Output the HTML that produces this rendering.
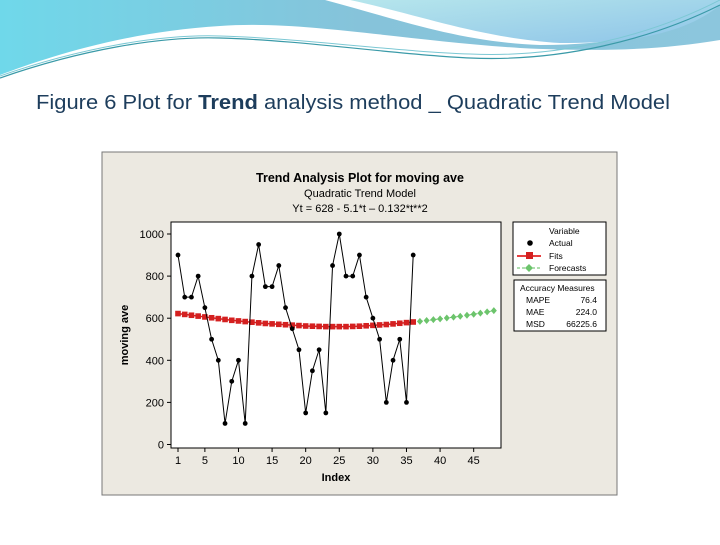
<!DOCTYPE html>
<html><head><meta charset="utf-8"><style>
body{margin:0;width:720px;height:540px;background:#fff;overflow:hidden;font-family:"Liberation Sans",sans-serif}
</style></head><body>
<svg width="720" height="540" xmlns="http://www.w3.org/2000/svg">
<defs>
<linearGradient id="g1" x1="0" y1="0" x2="1" y2="0"><stop offset="0" stop-color="#6fd8ea"/><stop offset="0.5" stop-color="#86c3da"/><stop offset="1" stop-color="#8cc6dd"/></linearGradient>
<linearGradient id="g2" x1="0" y1="0" x2="1" y2="1"><stop offset="0" stop-color="#b6e6ec"/><stop offset="1" stop-color="#8ec4e8"/></linearGradient>
</defs>
<g>
<path d="M0,0 H720 V40 C660,50 600,52 520,48 C400,40 300,20 220,26 C120,32 40,60 0,75 Z" fill="url(#g1)"/>
<path d="M325,0 H720 V5 C680,30 620,45 540,45 C460,42 400,20 325,0 Z" fill="#fff"/>
<path d="M350,0 H720 V5 C690,30 640,44 560,43 C480,38 420,15 350,0 Z" fill="url(#g2)"/>
<path d="M0,78 C80,50 160,36 220,38 C300,40 400,55 470,58 C560,62 650,40 720,5" fill="none" stroke="#3a9aa8" stroke-width="1.2"/>
<path d="M0,76 C80,48 160,34 220,36 C300,38 400,52 470,54 C560,58 650,36 720,0" fill="none" stroke="#7cc8d4" stroke-width="1"/>
</g>
<text x="36" y="109" font-size="20.5" textLength="634" lengthAdjust="spacingAndGlyphs" fill="#1d3d5c">Figure 6 Plot for <tspan font-weight="bold">Trend</tspan> analysis method _ Quadratic Trend Model</text>
<rect x="102" y="152" width="515" height="343" fill="#ece9e1" stroke="#777"/>
<text x="360" y="182" font-size="12.5" font-weight="bold" text-anchor="middle" fill="#000">Trend Analysis Plot for moving ave</text>
<text x="360" y="197" font-size="11" text-anchor="middle" fill="#000">Quadratic Trend Model</text>
<text x="360" y="212" font-size="11" text-anchor="middle" fill="#000">Yt = 628 - 5.1*t – 0.132*t**2</text>
<rect x="171" y="222" width="330" height="226" fill="#fff" stroke="#000"/>
<text transform="translate(128,335) rotate(-90)" font-size="11" font-weight="bold" text-anchor="middle">moving ave</text>
<text x="336" y="481" font-size="11" font-weight="bold" text-anchor="middle">Index</text>
<g id="axes"></g>
<g id="series"></g>
<g>
<rect x="513" y="222" width="93" height="53" fill="#fff" stroke="#000"/>
<text x="549" y="234" font-size="8.5">Variable</text>
<circle cx="530" cy="243" r="2.8" fill="#000"/>
<text x="549" y="246" font-size="8.5">Actual</text>
<line x1="517" y1="256" x2="541" y2="256" stroke="#d00" stroke-width="1.5"/>
<rect x="526" y="252" width="7" height="7" fill="#d42020"/>
<text x="549" y="259" font-size="8.5">Fits</text>
<line x1="517" y1="268" x2="541" y2="268" stroke="#5cbc5c" stroke-width="1" stroke-dasharray="3,2"/>
<path d="M529,264 L533,268 L529,272 L525,268 Z" fill="#6cc46c"/>
<text x="549" y="271" font-size="8.5">Forecasts</text>
</g>
<g>
<rect x="514" y="280" width="92" height="51" fill="#fff" stroke="#000"/>
<text x="520" y="291" font-size="8.5">Accuracy Measures</text>
<text x="526" y="303" font-size="8.5">MAPE</text><text x="597" y="303" font-size="8.5" text-anchor="end">76.4</text>
<text x="526" y="315" font-size="8.5">MAE</text><text x="597" y="315" font-size="8.5" text-anchor="end">224.0</text>
<text x="526" y="327" font-size="8.5">MSD</text><text x="597" y="327" font-size="8.5" text-anchor="end">66225.6</text>
</g>
</svg>
<script>
const actual=[900,700,700,800,650,500,400,100,300,400,100,800,950,750,750,850,650,550,450,150,350,450,150,850,1000,800,800,900,700,600,500,200,400,500,200,900];
const fits=[622,618,614,610,606,602,598,594,590,587,584,581,578,575,573,571,569,567,565,563,562,561,560,560,560,560,561,562,564,566,568,570,573,576,579,582];
const forecasts=[585,589,593,597,601,605,609,614,619,624,630,636];
const xTicks=[1,5,10,15,20,25,30,35,40,45];
const yTicks=[0,200,400,600,800,1000];
const NS='http://www.w3.org/2000/svg';
const xs=t=>178+(t-1)*6.72;
const ys=v=>444.5-v*0.2105;
function mk(tag,attrs,parent){const e=document.createElementNS(NS,tag);for(const k in attrs)e.setAttribute(k,attrs[k]);parent.appendChild(e);return e;}
const ax=document.getElementById('axes'),se=document.getElementById('series');
xTicks.forEach(t=>{
 const l=mk('line',{x1:xs(t),x2:xs(t),y1:448,y2:452,stroke:'#000'},ax);
 
 
 const tx=mk('text',{x:xs(t),y:464,'font-size':11,'text-anchor':'middle'},ax);tx.textContent=t;
 
 
});
yTicks.forEach(v=>{
 const l=mk('line',{x1:167,x2:171,y1:ys(v),y2:ys(v),stroke:'#000'},ax);
 
 
 const tx=mk('text',{x:164,y:ys(v)+4,'font-size':11,'text-anchor':'end'},ax);tx.textContent=v;
 
 
});
const fl=mk('polyline',{points:fits.map((v,i)=>xs(i+1)+','+ys(v)).join(' '),fill:'none',stroke:'#d42020','stroke-width':1.5},se);


fits.forEach((v,i)=>{const r=mk('rect',{x:xs(i+1)-2.8,y:ys(v)-2.8,width:5.6,height:5.6,fill:'#d42020'},se);
 
 });
const gl=mk('polyline',{points:forecasts.map((v,i)=>xs(i+37)+','+ys(v)).join(' '),fill:'none',stroke:'#6cc46c','stroke-width':1,'stroke-dasharray':'3,2'},se);


forecasts.forEach((v,i)=>{const x=xs(i+37),y=ys(v);const d=mk('path',{d:`M${x},${y-3.5} L${x+3},${y} L${x},${y+3.5} L${x-3},${y} Z`,fill:'#6cc46c'},se);
 
 });
const al=mk('polyline',{points:actual.map((v,i)=>xs(i+1)+','+ys(v)).join(' '),fill:'none',stroke:'#000','stroke-width':1},se);


actual.forEach((v,i)=>{const c=mk('circle',{cx:xs(i+1),cy:ys(v),r:2.4,fill:'#000'},se);
 
 });
</script>
</body></html>
